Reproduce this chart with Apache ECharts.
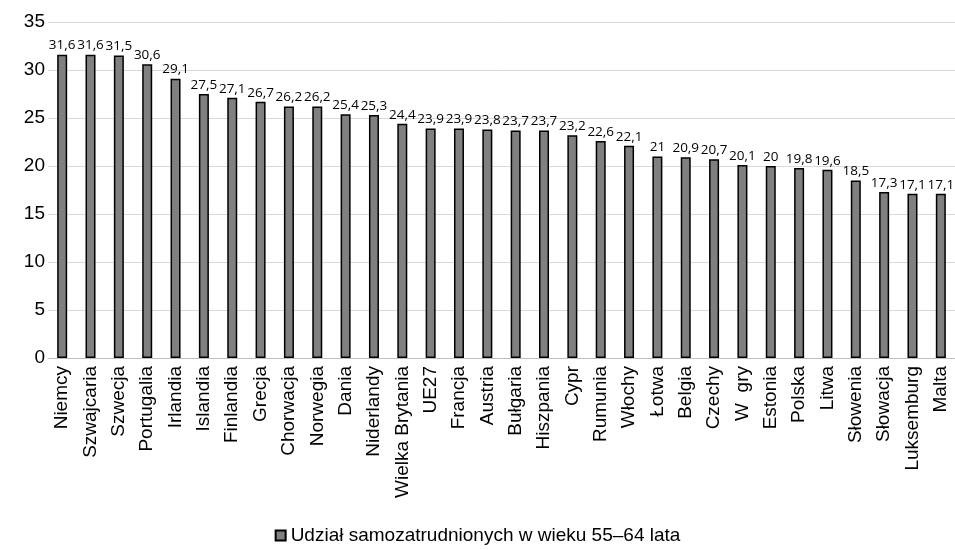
<!DOCTYPE html>
<html>
<head>
<meta charset="utf-8">
<script src="https://cdn.jsdelivr.net/npm/echarts@6/dist/echarts.min.js"></script>
<style>
html,body{margin:0;padding:0;background:#fff;}
#chart{width:955px;height:550px;}
</style>
</head>
<body>
<div id="chart"></div>
<script>
// Share of self-employed aged 55–64 by country (%)
var countries = ['Niemcy','Szwajcaria','Szwecja','Portugalia','Irlandia','Islandia','Finlandia','Grecja','Chorwacja','Norwegia','Dania','Niderlandy','Wielka Brytania','UE27','Francja','Austria','Bułgaria','Hiszpania','Cypr','Rumunia','Włochy','Łotwa','Belgia','Czechy','W  gry','Estonia','Polska','Litwa','Słowenia','Słowacja','Luksemburg','Malta'];
var shares = [31.6,31.6,31.5,30.6,29.1,27.5,27.1,26.7,26.2,26.2,25.4,25.3,24.4,23.9,23.9,23.8,23.7,23.7,23.2,22.6,22.1,21,20.9,20.7,20.1,20,19.8,19.6,18.5,17.3,17.1,17.1];
var seriesName = 'Udział samozatrudnionych w wieku 55–64 lata';

var chart = echarts.init(document.getElementById('chart'), null, {renderer:'canvas'});
chart.setOption({
  animation: false,
  grid: {left: 48, right: 0, top: 22, bottom: 192, containLabel: false},
  legend: {
    bottom: 0, left: 'center',
    itemWidth: 10, itemHeight: 10, itemGap: 4,
    textStyle: {fontFamily: 'Liberation Sans', fontSize: 19, color: '#000'},
    data: [{name: seriesName, icon: 'rect'}]
  },
  xAxis: {
    type: 'category',
    data: countries,
    axisLine: {show: true, lineStyle: {color: '#bfbfbf', width: 1}},
    axisTick: {show: false},
    axisLabel: {rotate: 90, interval: 0, fontFamily: 'Liberation Sans', fontSize: 19, color: '#000', margin: 8}
  },
  yAxis: {
    type: 'value',
    min: 0, max: 35, interval: 5,
    axisLine: {show: false},
    axisTick: {show: false},
    splitLine: {lineStyle: {color: '#d9d9d9', width: 1}},
    axisLabel: {fontFamily: 'Liberation Sans', fontSize: 19, color: '#000', margin: 3}
  },
  series: [{
    name: seriesName,
    type: 'bar',
    data: shares,
    barWidth: 10,
    itemStyle: {color: '#808080', borderColor: '#000', borderWidth: 1.5},
    label: {
      show: true, position: 'top', distance: 2,
      fontFamily: 'Open Sans', fontSize: 13.5, color: '#000',
      formatter: function (p) { return String(p.value).replace('.', ','); }
    }
  }]
});
</script>
</body>
</html>
